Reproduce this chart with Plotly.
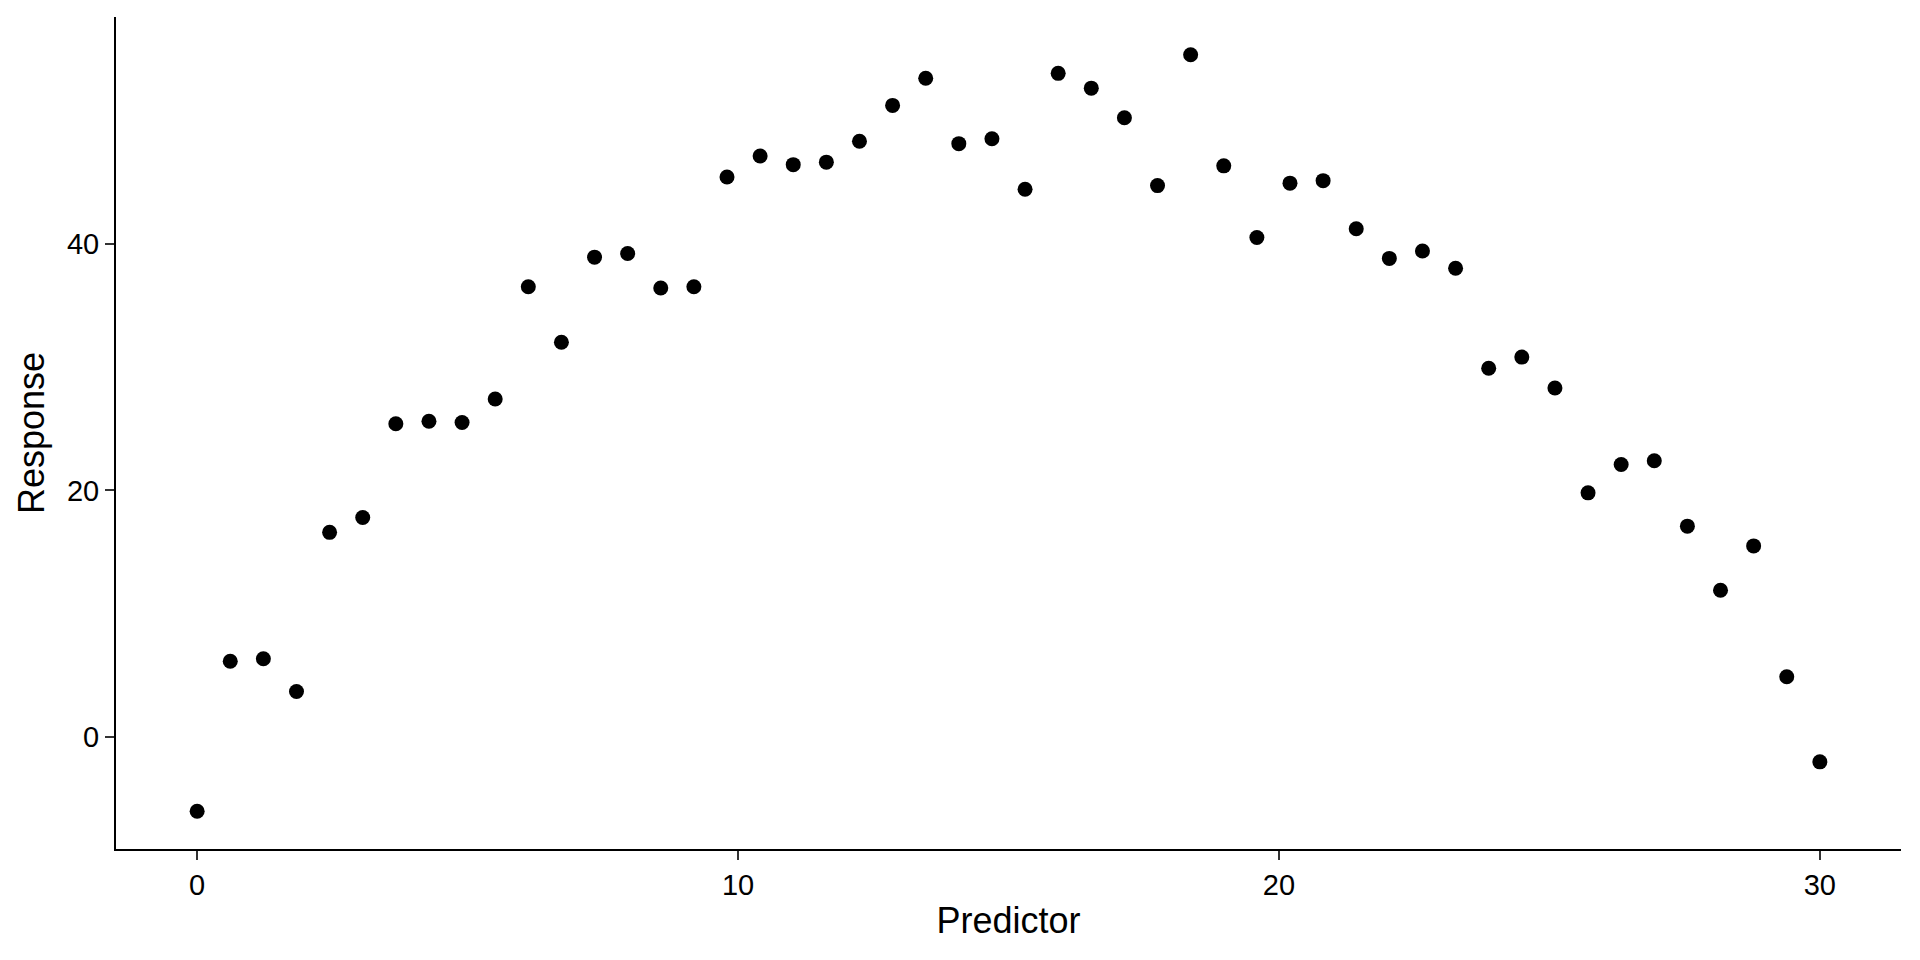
import numpy as np
import plotly.graph_objects as go

# Data (50 evenly spaced predictor values 0..30)
predictor = np.linspace(0, 30, 50)
response = [
    -6.0, 6.15, 6.35, 3.7, 16.6, 17.8, 25.4, 25.6, 25.5, 27.4,
    36.5, 32.0, 38.9, 39.2, 36.4, 36.5, 45.4, 47.1, 46.4, 46.6,
    48.3, 51.2, 53.4, 48.1, 48.5, 44.4, 53.8, 52.6, 50.2, 44.7,
    55.3, 46.3, 40.5, 44.9, 45.1, 41.2, 38.8, 39.4, 38.0, 29.9,
    30.8, 28.3, 19.8, 22.1, 22.4, 17.1, 11.9, 15.5, 4.9, -2.0,
]
x_ticks = [0, 10, 20, 30]
y_ticks = [0, 20, 40]

xmin, xmax = 0, 30
ymin, ymax = min(response), max(response)
xpad = (xmax - xmin) * 0.05
ypad = (ymax - ymin) * 0.05

fig = go.Figure(
    go.Scatter(
        x=predictor,
        y=response,
        mode="markers",
        marker=dict(color="black", size=15, line=dict(width=0)),
        showlegend=False,
    )
)

font = "Liberation Sans, Arial, Helvetica, sans-serif"

# page body has an 8px default margin, so the figure is sized/offset to compensate
fig.update_layout(
    width=1912,
    height=952,
    paper_bgcolor="white",
    plot_bgcolor="white",
    margin=dict(l=108, r=19, t=9, b=111, autoexpand=False),
    font=dict(family=font, color="black"),
    xaxis=dict(
        range=[xmin - xpad, xmax + xpad],
        tickvals=x_ticks,
        ticktext=[str(v) for v in x_ticks],
        showgrid=False,
        zeroline=False,
        showline=True,
        linecolor="black",
        linewidth=2,
        ticks="outside",
        ticklen=9,
        tickwidth=2,
        tickcolor="#333333",
        tickfont=dict(size=29, color="black"),
        title=dict(text="Predictor", font=dict(size=36, color="black"), standoff=8),
        automargin=False,
    ),
    yaxis=dict(
        range=[ymin - ypad, ymax + ypad],
        tickvals=y_ticks,
        ticktext=[str(v) for v in y_ticks],
        showgrid=False,
        zeroline=False,
        showline=True,
        linecolor="black",
        linewidth=2,
        ticks="outside",
        ticklen=9,
        tickwidth=2,
        tickcolor="#333333",
        tickfont=dict(size=29, color="black"),
        title=dict(text="Response", font=dict(size=36, color="black"), standoff=11),
        automargin=False,
    ),
)

fig.write_html("out.html")
